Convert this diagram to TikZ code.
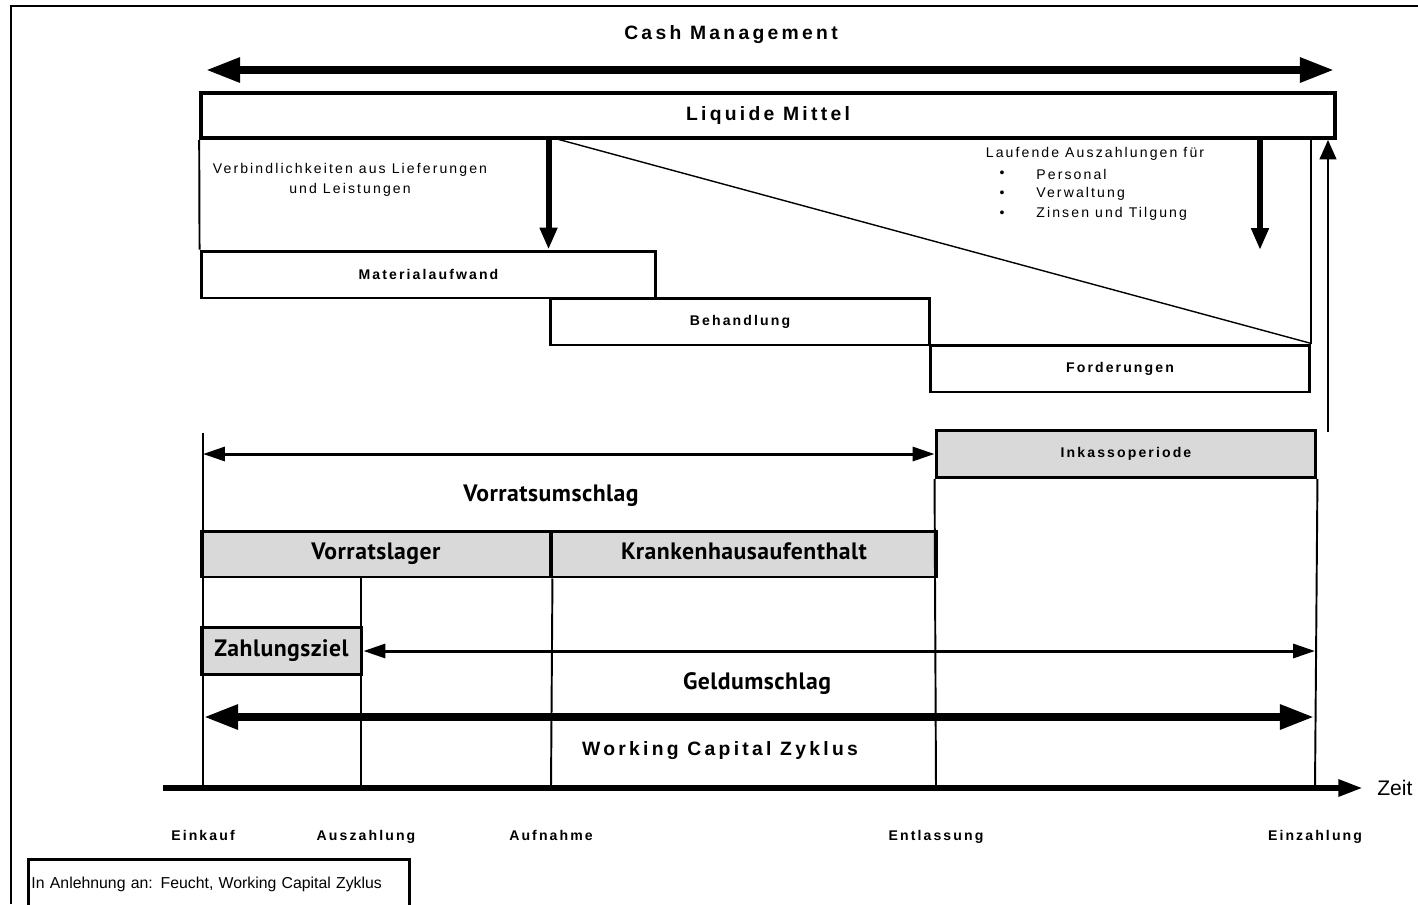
\documentclass[tikz,border=0pt]{standalone}
\usepackage{fontspec}
\setmainfont{Liberation Sans}
\newfontfamily\widefont[LetterSpace=17]{Liberation Sans}
\newfontfamily\smallfont[LetterSpace=15]{Liberation Sans}
\newfontfamily\labelfont[LetterSpace=2]{PT Sans}
\usetikzlibrary{arrows.meta}
\usetikzlibrary{positioning}

\begin{document}
\begin{tikzpicture}[x=0.02cm, y=-0.02cm, line join=miter, every node/.style={inner sep=0pt}]
	\tikzstyle{box}=[draw, line width=1.7pt, minimum height=0.94cm, font=\smallfont\bfseries\fontsize{8}{9}\selectfont]
	\tikzstyle{shaded box}=[box, fill=black!15]
	\tikzstyle{phase}=[font=\labelfont\bfseries\fontsize{13.5}{15}\selectfont, text height=1.6ex, text depth=0.45ex]
	\tikzstyle{big text}=[font=\widefont\bfseries\fontsize{11}{13}\selectfont]
	\tikzstyle{small text}=[font=\smallfont\fontsize{8}{11.3}\selectfont, align=center]
	\tikzstyle{tick label}=[font=\smallfont\bfseries\fontsize{8}{9}\selectfont, anchor=base]
	\tikzstyle{thin line}=[line width=1.1pt]
	\tikzstyle{fat arrow}=[line width=5pt, >={Triangle[length=20pt,width=13pt]}]
	\tikzstyle{thin arrow}=[line width=1.7pt, >={Triangle[length=12.5pt,width=8pt]}]
	\tikzstyle{down arrow}=[line width=3.4pt, ->, >={Triangle[length=12.5pt,width=9.5pt]}]
	
	\useasboundingbox (0,0) rectangle (1418,904);
	
	% Draw the frame
	\draw[line width=1.4pt] (11,904) -- (11,6) -- (1418,6);
	
	% Cash management on top
	\node[big text] (title) at (731,35) {Cash Management};
	\coordinate (cm-l) at (205,70);
	\coordinate (cm-r) at (1335,70);
	\draw[fat arrow, <->] (cm-l) -- (cm-r);
	\node[box, line width=2.2pt, minimum width=22.68cm, minimum height=0.9cm, big text] (LM) at (768,115.5) {Liquide Mittel};
	
	% Draw the steps of the cash outflow
	\node[box, minimum width=9.1cm] (MA) at (428.5,274.5) {Materialaufwand};
	\node[box, minimum width=7.6cm] (BH) at (740,321.5) {Behandlung};
	\node[box, minimum width=7.6cm] (FO) at (1120,368.5) {Forderungen};
	
	% Annotate the outflows
	\node[small text] (vb) at (350,180) {Verbindlichkeiten aus Lieferungen\\und Leistungen};
	\node[small text] (lauf) at (1095,154) {Laufende Auszahlungen für};
	\foreach \name / \y / \txt in {1/174/Personal, 2/194/Verwaltung, 3/214/Zinsen und Tilgung}
	{
		\node[small text] (B-\name) at (1002,\y) {\textbullet};
		\node[small text, anchor=west] (P-\name) at (1036,\y) {\txt};
	}
	
	% Connect the outflows
	\draw[thin line] (LM.south west) -- (MA.north west);
	\draw[down arrow] (BH.west |- LM.south) -- (BH.west |- MA.north);
	\coordinate (diag) at (557,139);
	\draw[line width=0.8pt] (diag) -- (FO.north east);
	\draw[thin line] (LM.south -| FO.north east) -- (FO.north east);
	\coordinate (lauf-s) at (1260,138);
	\coordinate (lauf-e) at (1260,250);
	\draw[down arrow] (lauf-s) -- (lauf-e);
	\coordinate (ret) at (1328,432);
	\draw[thin line, ->, >={Triangle[length=11pt,width=9.5pt]}] (ret) -- (ret |- LM.south);
	
	% Draw the time axis
	\coordinate (ax-s) at (163,788);
	\coordinate (ax-e) at (1363,788);
	\draw[line width=3.4pt, -{Triangle[length=14pt,width=9pt]}] (ax-s) -- (ax-e);
	\node[font=\fontsize{12}{14}\selectfont, anchor=west] (zeit) at (1377,788) {Zeit};
	\foreach \name / \x / \lx / \txt in {1/203/203/Einkauf, 2/361/366/Auszahlung, 3/551/551/Aufnahme, 4/936/936/Entlassung, 5/1315/1315/Einzahlung}
	{
		\coordinate (T-\name) at (\x,788);
		\node[tick label] (L-\name) at (\lx,840) {\txt};
	}
	
	% Draw the periods
	\node[shaded box, minimum width=7.6cm] (IK) at (1126,454) {Inkassoperiode};
	\node[shaded box, phase, minimum width=7cm, minimum height=0.92cm] (VL) at (376,554) {Vorratslager};
	\node[shaded box, phase, minimum width=7.72cm, minimum height=0.92cm] (KH) at (744,554) {Krankenhausaufenthalt};
	\node[shaded box, phase, minimum width=3.22cm] (ZZ) at (281.5,651) {Zahlungsziel};
	
	% Connect the periods with the axis
	\coordinate (v-top) at (203,433);
	\draw[thin line] (v-top) -- (T-1);
	\draw[thin line] (VL.south -| T-2) -- (T-2);
	\draw[thin line] (VL.south east) -- (T-3);
	\draw[thin line] (IK.south west) -- (T-4);
	\draw[thin line] (IK.south east) -- (T-5);
	
	% Cycles
	\coordinate (vu-l) at (203,454);
	\draw[thin arrow, <->] (vu-l) -- (IK.west);
	\node[phase] (vu) at (551,496) {Vorratsumschlag};
	\coordinate (gu-r) at (1315,651);
	\draw[thin arrow, <->] (ZZ.east) -- (gu-r);
	\node[phase] (gu) at (757,684) {Geldumschlag};
	\coordinate (wc-l) at (203,717);
	\coordinate (wc-r) at (1315,717);
	\draw[fat arrow, <->] (wc-l) -- (wc-r);
	\node[big text] (wc) at (720,751) {Working Capital Zyklus};
	
	% Source
	\node[draw, line width=1.7pt, anchor=north west, minimum width=7.62cm, minimum height=1.0cm, text width=7.5cm, align=left, font=\fontsize{9}{10}\selectfont] (note) at (27,858) {In Anlehnung an: Feucht, Working Capital Zyklus};
	
\end{tikzpicture}
\end{document}
